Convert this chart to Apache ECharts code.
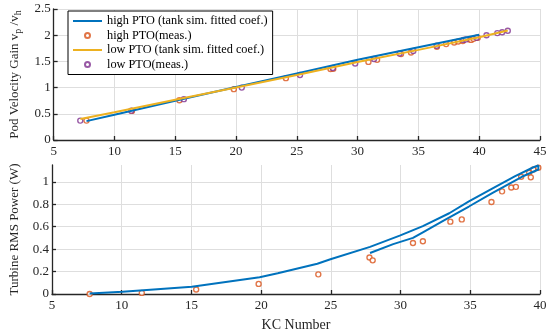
<!DOCTYPE html>
<html>
<head>
<meta charset="utf-8">
<script src="https://cdn.jsdelivr.net/npm/echarts@6/dist/echarts.min.js"></script>
<style>
html,body{margin:0;padding:0;background:#fff;}
#chart{width:550px;height:333px;}
</style>
</head>
<body>
<div id="chart"></div>
<script>
// ---- Data ----
const topXTicks = [5, 10, 15, 20, 25, 30, 35, 40, 45];
const topYTicks = [0, 0.5, 1, 1.5, 2, 2.5];
const botXTicks = [5, 10, 15, 20, 25, 30, 35, 40];
const botYTicks = [0, 0.2, 0.4, 0.6, 0.8, 1];

// high PTO fitted line (pod velocity gain)
const kcHighFit = [7.7, 10, 15, 20, 25, 30, 35, 40];
const gainHighFit = [0.36, 0.48, 0.75, 1.01, 1.27, 1.53, 1.77, 2.01];
// low PTO fitted line
const kcLowFit = [7.2, 10, 15, 20, 25, 30, 35, 40, 42.35];
const gainLowFit = [0.40, 0.53, 0.77, 1.0, 1.24, 1.49, 1.72, 1.96, 2.09];

// high PTO measurements (KC shared by gain and power)
const kcHighMeas = [7.70, 11.44, 15.34, 19.82, 24.1, 27.77, 28.0, 30.89, 31.6, 33.57, 34.39, 36.52, 37.28, 37.94, 38.27, 38.65, 39.22, 39.34, 39.53, 39.88];
const gainHighMeas = [0.37, 0.555, 0.76, 0.97, 1.18, 1.355, 1.36, 1.49, 1.53, 1.64, 1.67, 1.78, 1.83, 1.86, 1.88, 1.89, 1.92, 1.91, 1.93, 1.95];
const powHighMeas = [0.0, 0.01, 0.04, 0.09, 0.175, 0.325, 0.30, 0.455, 0.47, 0.645, 0.665, 0.82, 0.915, 0.95, 0.955, 1.045, 1.08, 1.04, 1.11, 1.125];

// low PTO measurements
const kcLowMeas = [7.19, 11.38, 15.71, 20.47, 25.26, 27.96, 29.8, 31.35, 33.45, 34.58, 36.5, 38.7, 38.9, 39.78, 40.6, 41.49, 41.89, 42.35];
const gainLowMeas = [0.37, 0.56, 0.78, 1.0, 1.24, 1.375, 1.46, 1.545, 1.65, 1.70, 1.80, 1.91, 1.92, 1.95, 2.0, 2.04, 2.055, 2.085];

// high PTO fitted power curve
const kcPowFit = [7.7, 10.06, 15.03, 19.89, 21.19, 24.03, 24.97, 27.81, 29.94, 31.6, 33.49, 34.9, 36.57, 38.22, 39.53, 39.88, 40.0, 39.88, 38.7, 36.57, 34.9, 33.02, 31.6, 30.89, 29.47, 27.81];
const powFit = [0.005, 0.02, 0.065, 0.15, 0.185, 0.27, 0.31, 0.42, 0.52, 0.605, 0.72, 0.825, 0.94, 1.05, 1.13, 1.145, 1.14, 1.11, 1.045, 0.90, 0.78, 0.65, 0.55, 0.50, 0.445, 0.365];

const names = ['high PTO (tank sim. fitted coef.)', 'high PTO(meas.)', 'low PTO (tank sim. fitted coef.)', 'low PTO(meas.)'];

// ---- Styles ----
const FONT = '"Liberation Serif", "Times New Roman", serif';
const BLUE = '#0072BD', ORANGE = '#D95319', YELLOW = '#EDB120', PURPLE = '#7E2F8E';
const AX = '#262626', GRID = '#dedede';
const zip = (a, b) => a.map((v, i) => [v, b[i]]);

function xAxis(gi, min, max, name) {
  return {
    type: 'value', gridIndex: gi, min: min, max: max, interval: 5,
    name: name || '', nameLocation: 'middle', nameGap: 24,
    nameTextStyle: {fontFamily: FONT, fontSize: 14, color: AX},
    axisLine: {show: true, onZero: false, lineStyle: {color: AX, width: 1.3}},
    axisTick: {show: true, inside: true, length: 4, lineStyle: {color: AX, width: 1.3}},
    axisLabel: {fontFamily: FONT, fontSize: 13, color: AX, margin: 5},
    splitLine: {show: true, lineStyle: {color: GRID, width: 1}}
  };
}

const option = {
  animation: false,
  backgroundColor: '#fff',
  grid: [
    {left: 47, right: 10, top: 9, bottom: 193, containLabel: false},
    {left: 47, right: 10, top: 165, bottom: 37, containLabel: false}
  ],
  xAxis: [xAxis(0, 5, 45), xAxis(1, 5, 40, 'KC Number')],
  yAxis: [
    {
      type: 'value', gridIndex: 0, min: 0, max: 2.5, interval: 0.5,
      name: '{a|Pod Velocity Gain v}{s|p}{a| /v}{s|h}', nameLocation: 'middle', nameGap: 29,
      nameTextStyle: {rich: {
        a: {fontFamily: FONT, fontSize: 13, color: AX},
        s: {fontFamily: FONT, fontSize: 10, color: AX, verticalAlign: 'bottom', padding: [8, 0, 0, 0]}
      }},
      axisLine: {show: true, lineStyle: {color: AX, width: 1.3}},
      axisTick: {show: true, inside: true, length: 4, lineStyle: {color: AX, width: 1.3}},
      axisLabel: {fontFamily: FONT, fontSize: 13, color: AX, margin: 3},
      splitLine: {show: true, lineStyle: {color: GRID, width: 1}}
    },
    {
      type: 'value', gridIndex: 1, min: 0, max: 1.15, interval: 0.2,
      name: 'Turbine RMS Power (W)', nameLocation: 'middle', nameGap: 31,
      nameTextStyle: {fontFamily: FONT, fontSize: 13, color: AX},
      axisLine: {show: true, lineStyle: {color: AX, width: 1.3}},
      axisTick: {show: true, inside: true, length: 4, lineStyle: {color: AX, width: 1.3}},
      axisLabel: {fontFamily: FONT, fontSize: 13, color: AX, margin: 3, showMaxLabel: false,
        formatter: v => (v > 1.05 ? '' : String(+v.toFixed(1)))},
      splitLine: {show: true, lineStyle: {color: [GRID, GRID, GRID, GRID, GRID, GRID, 'rgba(0,0,0,0)'], width: 1}}
    }
  ],
  legend: {
    orient: 'vertical', left: 68, top: 11,
    backgroundColor: '#fff', borderColor: '#000', borderWidth: 1,
    padding: [4, 5, 4, 4], itemGap: 2.5, itemWidth: 29, itemHeight: 5,
    textStyle: {fontFamily: FONT, fontSize: 12.3, color: '#000'},
    data: [
      {name: names[0], itemStyle: {opacity: 0}},
      {name: names[1]},
      {name: names[2], itemStyle: {opacity: 0}},
      {name: names[3]}
    ]
  },
  series: [
    {name: names[0], type: 'line', xAxisIndex: 0, yAxisIndex: 0, data: zip(kcHighFit, gainHighFit),
      symbol: 'none', lineStyle: {color: BLUE, width: 2}, itemStyle: {color: BLUE}},
    {name: names[1], type: 'scatter', xAxisIndex: 0, yAxisIndex: 0, data: zip(kcHighMeas, gainHighMeas),
      symbol: 'circle', symbolSize: 5, itemStyle: {color: '#fff', borderColor: ORANGE, borderWidth: 1.4}},
    {name: names[2], type: 'line', xAxisIndex: 0, yAxisIndex: 0, data: zip(kcLowFit, gainLowFit),
      symbol: 'none', lineStyle: {color: YELLOW, width: 2}, itemStyle: {color: YELLOW}},
    {name: names[3], type: 'scatter', xAxisIndex: 0, yAxisIndex: 0, data: zip(kcLowMeas, gainLowMeas),
      symbol: 'circle', symbolSize: 5, itemStyle: {color: '#fff', borderColor: PURPLE, borderWidth: 1.4}},
    {name: 'powFit', type: 'line', xAxisIndex: 1, yAxisIndex: 1, data: zip(kcPowFit, powFit),
      symbol: 'none', lineStyle: {color: BLUE, width: 2}, itemStyle: {color: BLUE}},
    {name: 'powMeas', type: 'scatter', xAxisIndex: 1, yAxisIndex: 1, data: zip(kcHighMeas, powHighMeas),
      symbol: 'circle', symbolSize: 5, itemStyle: {color: '#fff', borderColor: ORANGE, borderWidth: 1.4}}
  ]
};

const chart = echarts.init(document.getElementById('chart'), null, {renderer: 'canvas'});
chart.setOption(option);
</script>
</body>
</html>
